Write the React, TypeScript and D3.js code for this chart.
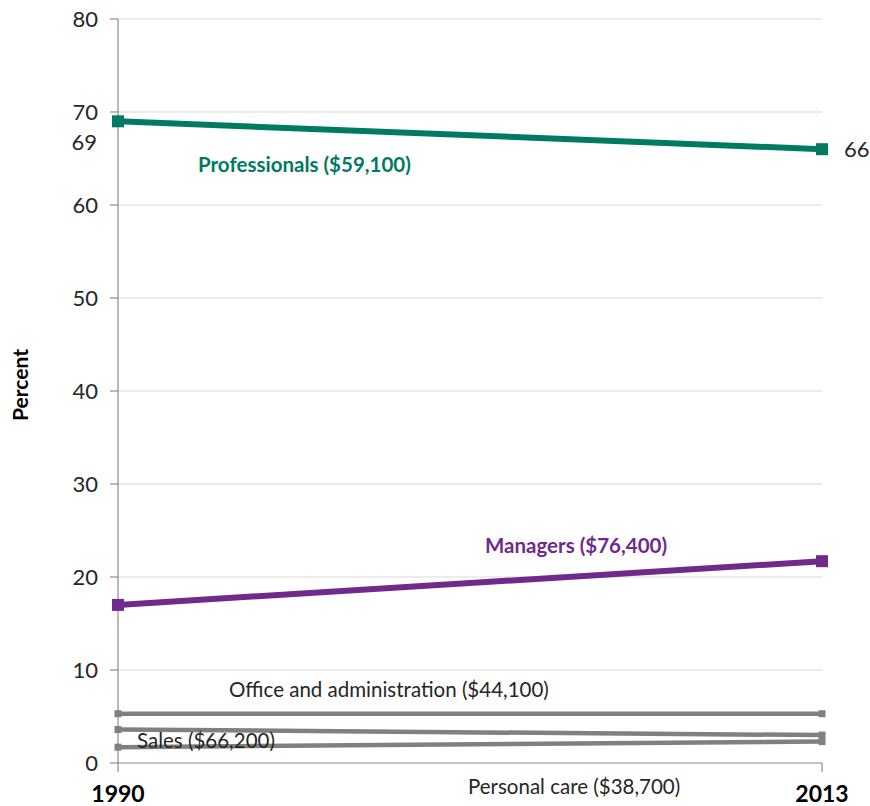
import React from "react";
import * as d3 from "d3";

const years = [1990, 2013];
const professionals = [69, 66];
const managers = [17, 21.7];
const office = [5.3, 5.3];
const sales = [3.6, 3.0];
const personalCare = [1.7, 2.3];
const yTicks = [0, 10, 20, 30, 40, 50, 60, 70, 80];

const seriesList = [
  { name: "Office and administration ($44,100)", values: office, color: "#808080", width: 4.5, marker: 7 },
  { name: "Sales ($66,200)", values: sales, color: "#808080", width: 4.5, marker: 7 },
  { name: "Personal care ($38,700)", values: personalCare, color: "#808080", width: 4.5, marker: 7 },
  { name: "Managers ($76,400)", values: managers, color: "#6F2A8C", width: 6, marker: 12 },
  { name: "Professionals ($59,100)", values: professionals, color: "#007A62", width: 6, marker: 12 },
];

const FONT = "Lato, 'Open Sans', sans-serif";

export default function App() {
  const W = 870, H = 806;
  const x = d3.scalePoint<number>().domain(years).range([118, 822]);
  const y = d3.scaleLinear().domain([0, 80]).range([763, 19]);
  const line = d3.line<[number, number]>().x(d => x(d[0])!).y(d => y(d[1]));

  return (
    <svg width={W} height={H} style={{ position: "absolute", left: 0, top: 0 }} fontFamily={FONT}>
      <rect width={W} height={H} fill="#fff" />
      {yTicks.filter(t => t > 0).map(t => (
        <line key={t} x1={118} x2={822} y1={y(t)} y2={y(t)} stroke="#d9d9d9" strokeWidth={1.2} />
      ))}
      <line x1={118} x2={118} y1={y(80)} y2={y(0)} stroke="#8c8c8c" strokeWidth={1.2} />
      {yTicks.map(t => (
        <g key={t}>
          <line x1={110} x2={118} y1={y(t)} y2={y(t)} stroke="#8c8c8c" strokeWidth={1.2} />
          <text x={98} y={y(t)} dy="0.35em" textAnchor="end" fontSize={22} fill="#262626">{t}</text>
        </g>
      ))}
      <line x1={118} x2={822} y1={y(0)} y2={y(0)} stroke="#8c8c8c" strokeWidth={1.2} />
      {years.map(yr => (
        <g key={yr}>
          <line x1={x(yr)} x2={x(yr)} y1={y(0)} y2={y(0) + 9} stroke="#8c8c8c" strokeWidth={1.2} />
          <text x={x(yr)} y={802} textAnchor="middle" fontSize={23} fontWeight="bold" fill="#000">{yr}</text>
        </g>
      ))}
      <text transform="translate(28,385) rotate(-90)" textAnchor="middle" fontSize={21} fontWeight="bold" fill="#000">Percent</text>
      {seriesList.map(s => {
        const pts = years.map((yr, i) => [yr, s.values[i]] as [number, number]);
        return (
          <g key={s.name}>
            <path d={line(pts)!} fill="none" stroke={s.color} strokeWidth={s.width} />
            {pts.map((p, i) => (
              <rect key={i} x={x(p[0])! - s.marker / 2} y={y(p[1]) - s.marker / 2} width={s.marker} height={s.marker} fill={s.color} />
            ))}
          </g>
        );
      })}
      <text x={97} y={y(professionals[0]) + 29} textAnchor="end" fontSize={22} fill="#262626">{professionals[0]}</text>
      <text x={844} y={y(professionals[1])} dy="0.35em" fontSize={22} fill="#262626">{professionals[1]}</text>
      <text x={198} y={172} fontSize={20.5} fontWeight="bold" fill="#007A62">Professionals ($59,100)</text>
      <text x={485} y={553} fontSize={20.5} fontWeight="bold" fill="#6F2A8C">Managers ($76,400)</text>
      <text x={229} y={697} fontSize={20.5} fill="#262626">Office and administration ($44,100)</text>
      <text x={137} y={748} fontSize={20.5} fill="#262626">Sales ($66,200)</text>
      <text x={468} y={794} fontSize={20.5} fill="#262626">Personal care ($38,700)</text>
    </svg>
  );
}
